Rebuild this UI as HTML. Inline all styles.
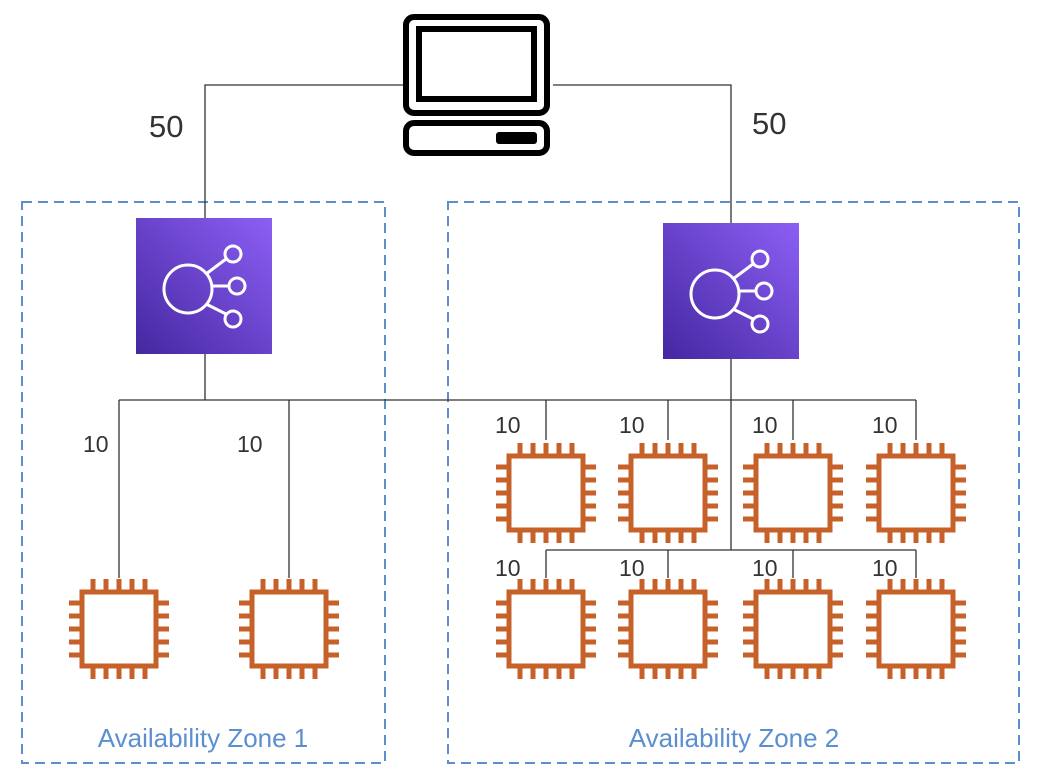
<!DOCTYPE html>
<html><head><style>body{margin:0;background:#fff}</style></head><body>
<svg width="1038" height="782" xmlns="http://www.w3.org/2000/svg" style="display:block">
<defs>
<linearGradient id="g" x1="0" y1="1" x2="1" y2="0"><stop offset="0" stop-color="#4527a0"/><stop offset="1" stop-color="#8c5ff5"/></linearGradient>
<g id="chip" fill="none" stroke="#c7612a" stroke-width="5">
<rect x="-37" y="-37" width="74" height="74" fill="#fff"/>
<path d="M-26,-39v-11M-13,-39v-11M0,-39v-11M13,-39v-11M26,-39v-11M-26,39v11M-13,39v11M0,39v11M13,39v11M26,39v11M-39,-26h-11M-39,-13h-11M-39,0h-11M-39,13h-11M-39,26h-11M39,-26h11M39,-13h11M39,0h11M39,13h11M39,26h11"/>
</g>
<g id="elb" fill="none" stroke="#fff" stroke-width="3">
<rect x="0" y="0" width="136" height="136" fill="url(#g)" stroke="none"/>
<circle cx="52" cy="71" r="24"/><circle cx="97" cy="36" r="8"/><circle cx="101" cy="68" r="8"/><circle cx="97" cy="101" r="8"/>
<path d="M70,56L90,41M76,68H93M70,86L90,96"/>
</g>
</defs>
<rect x="22" y="202" width="363" height="561" fill="none" stroke="#5b8fd0" stroke-width="2" stroke-dasharray="10,6"/>
<rect x="448" y="202" width="571" height="561" fill="none" stroke="#5b8fd0" stroke-width="2" stroke-dasharray="10,6"/>
<g stroke="#333" stroke-width="1.3" fill="none">
<path d="M405,85H205V218M553,85H731V223"/>
<path d="M205,354V400M119,400H916M731,359V550M546,550H916"/>
<path d="M119,400V578M289,400V578M546,400V440M668,400V440M793,400V440M916,400V440M546,550V578M668,550V578M793,550V578M916,550V578"/>
</g>
<g fill="none" stroke="#000" stroke-width="6">
<rect x="406" y="17" width="141" height="96" rx="8"/>
<rect x="419" y="29" width="115" height="70"/>
<rect x="406" y="123" width="141" height="30" rx="8"/>
</g>
<rect x="496" y="132" width="41" height="12" rx="3" fill="#000"/>
<use href="#elb" x="136" y="218"/>
<use href="#elb" x="663" y="223"/>
<use href="#chip" x="119" y="629"/>
<use href="#chip" x="289" y="629"/>
<use href="#chip" x="546" y="493"/><use href="#chip" x="668" y="493"/><use href="#chip" x="793" y="493"/><use href="#chip" x="916" y="493"/>
<use href="#chip" x="546" y="629"/><use href="#chip" x="668" y="629"/><use href="#chip" x="793" y="629"/><use href="#chip" x="916" y="629"/>
<g font-family="Liberation Sans, sans-serif" fill="#333">
<text x="149" y="137" font-size="31">50</text>
<text x="752" y="134" font-size="31">50</text>
<g font-size="23">
<text x="83" y="452">10</text><text x="237" y="452">10</text>
<text x="495" y="433">10</text><text x="619" y="433">10</text><text x="752" y="433">10</text><text x="872" y="433">10</text>
<text x="495" y="576">10</text><text x="619" y="576">10</text><text x="752" y="576">10</text><text x="872" y="576">10</text>
</g>
</g>
<g font-family="Liberation Sans, sans-serif" fill="#5b8fd0" font-size="26" text-anchor="middle">
<text x="203" y="747">Availability Zone 1</text>
<text x="734" y="747">Availability Zone 2</text>
</g>
</svg>
</body></html>
